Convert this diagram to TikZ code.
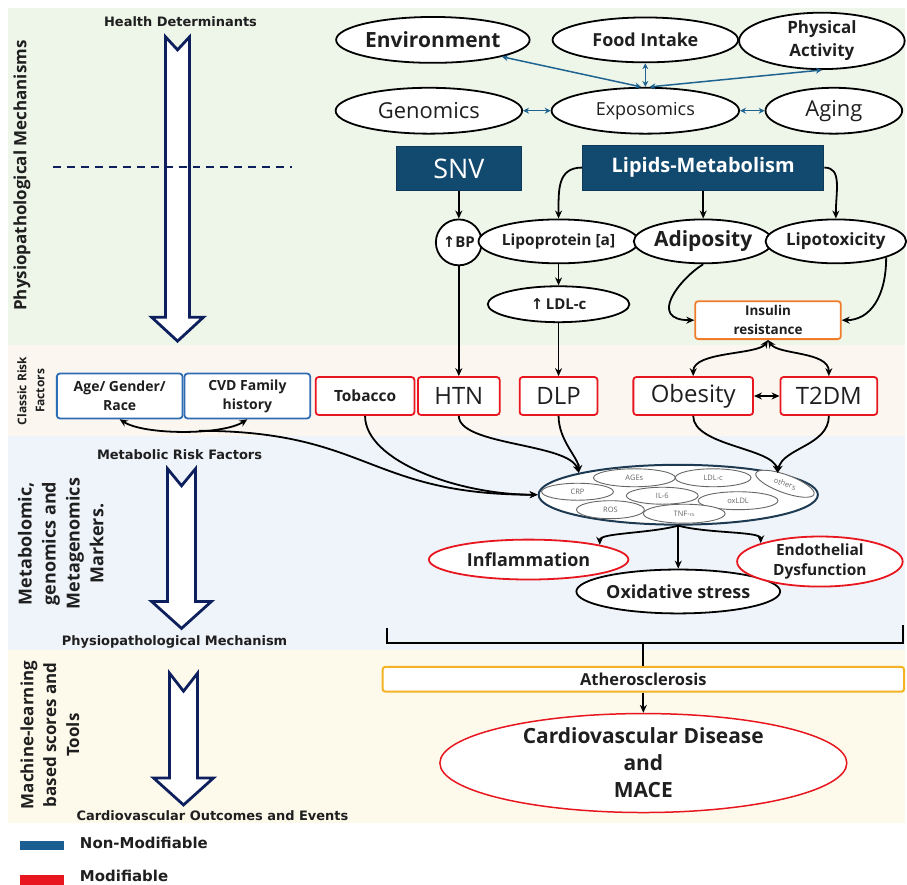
\documentclass[tikz,border=0pt]{standalone}
\usepackage{fontspec}
\setmainfont{Open Sans}
\newfontfamily\dejavu{DejaVu Sans}
\usepackage{tikz}
\usetikzlibrary{arrows.meta, positioning, shapes.geometric}

\definecolor{bandgreen}{HTML}{EEF6EA}
\definecolor{bandbeige}{HTML}{FBF6EF}
\definecolor{bandblue}{HTML}{EFF4FA}
\definecolor{bandyellow}{HTML}{FDFAEC}
\definecolor{snvblue}{HTML}{12496F}
\definecolor{tealblue}{HTML}{1F6390}
\definecolor{navy}{HTML}{0D1F5C}
\definecolor{nonmodblue}{HTML}{2E6DB4}
\definecolor{legblue}{HTML}{1B5E91}
\definecolor{modred}{HTML}{E8161E}
\definecolor{insorange}{HTML}{F07B2A}
\definecolor{athorange}{HTML}{F5B324}
\definecolor{markblue}{HTML}{1D3A52}

\newcommand{\fsz}[2]{\fontsize{#1}{#2}\selectfont}

\begin{document}
\begin{tikzpicture}[
    x=1pt, y=-1pt,
    every node/.style={inner sep=0pt, align=center, text=black!88},
    oval/.style={ellipse, draw=black, line width=1.8pt, fill=white},
    redoval/.style={oval, draw=modred},
    tile/.style={rectangle, rounded corners=3pt, draw=modred, line width=1.8pt, fill=white, minimum height=38pt},
    bluetile/.style={tile, draw=nonmodblue, minimum height=45pt},
    darkbox/.style={rectangle, fill=snvblue, draw=snvblue!80!black, line width=1pt, text=white, minimum height=44pt},
    chip/.style={ellipse, draw=black!60, line width=0.9pt, fill=white, minimum height=18pt, font=\fsz{7.5}{9}, text=black!60},
    arr/.style={-{Stealth[length=8pt, width=7pt]}, line width=1.8pt},
    darr/.style={{Stealth[length=8pt, width=7pt]}-{Stealth[length=8pt, width=7pt]}, line width=1.8pt},
    tarr/.style={{Stealth[length=6pt, width=6pt]}-{Stealth[length=6pt, width=6pt]}, line width=1.5pt, color=tealblue},
    hollow/.style={draw=navy, fill=white, line width=2.8pt, line join=miter},
    side/.style={font=\dejavu\bfseries\fsz{13}{15}},
    sidetitle/.style={rotate=90, font=\bfseries\fsz{17}{23}},
]

% background bands
\fill[bandgreen] (8,8) rectangle (907,346);
\fill[bandbeige] (8,346) rectangle (907,437);
\fill[bandblue] (8,437) rectangle (907,652);
\fill[bandyellow] (8,652) rectangle (907,825);

% rotated titles
\node[sidetitle] (tphys) at (22,176) {Physiopathological Mechanisms};
\node[sidetitle, font=\bfseries\fsz{12}{18}] (tclassic) at (31,392) {Classic Risk\\Factors};
\node[sidetitle, font=\bfseries\fsz{18}{24}] (tmeta) at (61,545) {Metabolomic,\\genomics and\\Metagenomics\\Markers.};
\node[sidetitle] (tml) at (50,737) {Machine-learning\\based scores and\\Tools};

% hollow arrows
\draw[hollow] (166,37) -- (178,50) -- (190,37) -- (190,318) -- (204,318) -- (178,342) -- (152,318) -- (166,318) -- cycle;
\draw[hollow] (168,470) -- (182,487) -- (196,470) -- (196,603) -- (212,603) -- (182,630) -- (152,603) -- (168,603) -- cycle;
\draw[hollow] (170,675) -- (184,693) -- (198,675) -- (198,780) -- (214,780) -- (184,807) -- (154,780) -- (170,780) -- cycle;
\draw[navy, line width=2pt, dash pattern=on 8pt off 6pt] (53,167) -- (293,167);

\node[side] (hd) at (181,22) {Health Determinants};
\node[side] (mrf) at (180,456) {Metabolic Risk Factors};
\node[side] (ppm) at (175,644) {Physiopathological Mechanism};
\node[side] (coe) at (213,818) {Cardiovascular Outcomes and Events};

% exposome
\node[oval, minimum width=194pt, minimum height=46pt, font=\bfseries\fsz{21}{24}] (env) at (434,40) {Environment};
\node[oval, minimum width=186pt, minimum height=45pt, font=\bfseries\fsz{18}{20}] (food) at (647,40) {Food Intake};
\node[oval, minimum width=166pt, minimum height=52pt, font=\bfseries\fsz{17}{23}] (phys) at (824,41) {Physical\\Activity};
\node[oval, minimum width=187pt, minimum height=46pt, font=\fsz{22}{24}] (genom) at (430,111) {Genomics};
\node[oval, minimum width=188pt, minimum height=46pt, font=\fsz{18}{20}] (expo) at (647,111) {Exposomics};
\node[oval, minimum width=137pt, minimum height=46pt, font=\fsz{22}{24}] (aging) at (836,111) {Aging};

\draw[tarr] (genom) -- (expo);
\draw[tarr] (expo) -- (aging);
\draw[tarr] (expo) -- (food);
\draw[tarr] (expo.100) -- (env.south east);
\draw[tarr] (expo.80) -- (phys.south);

% mechanisms
\node[darkbox, minimum width=125pt, font=\fsz{27}{30}] (snv) at (460,169) {SNV};
\node[darkbox, minimum width=242pt, minimum height=45pt, font=\bfseries\fsz{20}{24}] (lipids) at (705,168) {Lipids-Metabolism};
\node[circle, draw=black, line width=1.8pt, fill=white, minimum size=46pt, font=\bfseries\fsz{15}{18}] (bp) at (460,243) {{\dejavu ↑}BP};
\node[oval, minimum width=142pt, minimum height=44pt, font=\bfseries\fsz{15.5}{18}] (lpa) at (560,242) {Lipoprotein [a]};
\node[oval, minimum width=126pt, minimum height=44pt, font=\bfseries\fsz{21}{22}] (adip) at (705,242) {Adiposity};
\node[oval, minimum width=138pt, minimum height=44pt, font=\bfseries\fsz{17}{19}] (lipotox) at (838,242) {Lipotoxicity};
\node[oval, minimum width=142pt, minimum height=36pt, font=\bfseries\fsz{15}{18}] (ldl) at (560,305) {{\dejavu ↑}\,LDL-c};
\node[tile, draw=insorange, minimum width=146pt, minimum height=38pt, font=\bfseries\fsz{13.5}{19}] (insulin) at (770,321) {Insulin\\resistance};

\draw[arr] (snv) -- (bp);
\draw[arr] (lipids.west) .. controls +(-25,0) and +(0,-28) .. (lpa.north);
\draw[arr] (lipids) -- (adip);
\draw[arr] (lipids.east) .. controls +(18,0) and +(0,-28) .. (lipotox.north);
\draw[arr] (lpa) -- (ldl);
\draw[arr] (adip.south) .. controls +(-24,15) and +(-47,0) .. (insulin.west);
\draw[arr] (lipotox.south east) .. controls +(0,40) and +(28,0) .. (insulin.east);

% classic risk factors
\node[bluetile, minimum width=126pt, font=\bfseries\fsz{14}{19}] (age) at (120,397) {Age/ Gender/\\Race};
\node[bluetile, minimum width=126pt, font=\bfseries\fsz{14}{19}] (cvd) at (248,397) {CVD Family\\history};
\node[tile, minimum width=99pt, font=\bfseries\fsz{15.5}{18}] (tob) at (366,397) {Tobacco};
\node[tile, minimum width=82pt, font=\fsz{24}{26}] (htn) at (460,397) {HTN};
\node[tile, minimum width=78pt, font=\fsz{24}{26}] (dlp) at (560,397) {DLP};
\node[tile, minimum width=120pt, font=\fsz{24}{26}] (obes) at (695,397) {Obesity};
\node[tile, minimum width=97pt, font=\fsz{24}{26}] (t2dm) at (831,397) {T2DM};

\draw[arr] (bp) -- (htn);
\draw[arr] (ldl) -- (dlp);
\draw[darr] (insulin.south) .. controls +(-10,15) and +(0,-25) .. (obes.north);
\draw[darr] (insulin.south) .. controls +(10,15) and +(0,-25) .. (t2dm.north);
\draw[darr] (obes) -- (t2dm);

% markers
\node[oval, draw=markblue, line width=2pt, minimum width=280pt, minimum height=60pt] (markers) at (680,496) {};
\node[chip, minimum width=82pt] (ages) at (636,479) {AGEs};
\node[chip, minimum width=76pt] (ldlc) at (715,479) {LDL-c};
\node[chip, minimum width=62pt, rotate=-20] (others) at (787,485) {others};
\node[chip, minimum width=72pt, minimum height=17pt] (crp) at (579,493) {CRP};
\node[chip, minimum width=72pt, minimum height=17pt] (il6) at (664,497) {IL-6};
\node[chip, minimum width=80pt] (oxldl) at (740,502) {oxLDL};
\node[chip, minimum width=68pt] (ros) at (612,511) {ROS};
\node[chip, minimum width=82pt, minimum height=19pt] (tnf) at (686,515) {TNF-$\alpha$};

\draw[darr] (age.south) .. controls +(25,16) and +(-25,16) .. (cvd.south) coordinate[pos=0.6] (agemid);
\draw[arr] (agemid) .. controls +(170,0) and +(-170,0) .. (markers.west);
\draw[arr] (tob.south) .. controls +(0,45) and +(-80,0) .. (markers.west);
\draw[arr] (htn.south) .. controls +(0,30) and +(-10,-30) .. (markers.north west);
\draw[arr] (dlp.south) .. controls +(0,25) and +(0,-15) .. (markers.north west);
\draw[arr] (obes.south) .. controls +(0,30) and +(-5,-25) .. (markers.north east);
\draw[arr] (t2dm.south) .. controls +(0,30) and +(5,-25) .. (markers.north east);

\node[redoval, minimum width=200pt, minimum height=40pt, font=\bfseries\fsz{18}{20}] (infl) at (530,561) {Inflammation};
\node[oval, minimum width=190pt, minimum height=44pt, font=\bfseries\fsz{18}{20}] (oxid) at (680,593) {Oxidative stress};
\node[redoval, minimum width=166pt, minimum height=44pt, font=\bfseries\fsz{15.5}{20}] (endo) at (822,563) {Endothelial\\Dysfunction};

\draw[arr] (markers.south) .. controls +(-30,8) and +(0,-12) .. (infl.north east);
\draw[arr] (markers.south) -- (oxid.north);
\draw[arr] (markers.south) .. controls +(30,8) and +(0,-12) .. (endo.north west);

% outcomes
\node[rectangle, rounded corners=3pt, draw=athorange, line width=2pt, fill=white, minimum width=523pt, minimum height=25pt, font=\bfseries\fsz{16.5}{18}] (athero) at (645,681) {Atherosclerosis};
\node[redoval, line width=1.5pt, minimum width=408pt, minimum height=95pt, font=\bfseries\fsz{21}{27}] (cvdis) at (645,765) {Cardiovascular Disease\\and\\MACE};

\coordinate (brL) at (388,630);
\coordinate (brR) at (905,627);
\coordinate (brM) at (645,645);
\draw[line width=1.8pt] (brL) |- (brM) -| (brR);
\draw[line width=1.8pt] (brM) -- (athero.north);
\draw[arr] (athero) -- (cvdis);

% legend
\node[minimum width=44pt, minimum height=9pt, fill=legblue] (legnm) at (42,848) {};
\node[side, anchor=west, font=\dejavu\bfseries\fsz{15}{17}] (legnmtxt) at (80,845) {Non-Modifiable};
\node[minimum width=44pt, minimum height=10pt, fill=modred] (legm) at (42,882) {};
\node[side, anchor=west, font=\dejavu\bfseries\fsz{15}{17}] (legmtxt) at (80,878) {Modifiable};

\useasboundingbox (0,0) rectangle (907,886);
\end{tikzpicture}
\end{document}
